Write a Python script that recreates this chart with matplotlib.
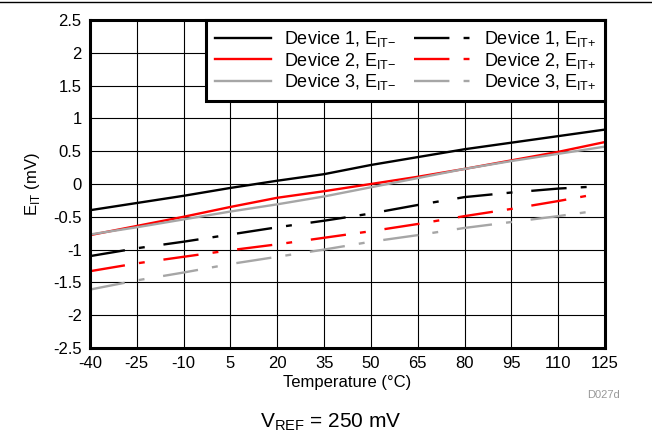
import matplotlib
matplotlib.use("Agg")
import matplotlib.pyplot as plt
from matplotlib.lines import Line2D

plt.rcParams['font.family'] = ['Liberation Sans', 'DejaVu Sans']
plt.rcParams['mathtext.fontset'] = 'custom'
plt.rcParams['mathtext.rm'] = 'Liberation Sans'
plt.rcParams['axes.unicode_minus'] = False

temps = [-40, -25, -10, 5, 20, 35, 50, 65, 80, 95, 110, 125]

# E_IT- (solid)
dev1_minus = [-0.40, -0.29, -0.18, -0.06, 0.05, 0.15, 0.29, 0.41, 0.53, 0.63, 0.73, 0.83]
dev2_minus = [-0.78, -0.64, -0.50, -0.35, -0.21, -0.11, 0.00, 0.11, 0.23, 0.36, 0.49, 0.64]
dev3_minus = [-0.77, -0.66, -0.54, -0.42, -0.31, -0.19, -0.05, 0.09, 0.23, 0.35, 0.46, 0.57]

# E_IT+ (dash-dot)
dev1_plus = [-1.10, -0.98, -0.88, -0.77, -0.66, -0.56, -0.45, -0.32, -0.20, -0.13, -0.07, -0.03]
dev2_plus = [-1.33, -1.21, -1.11, -1.01, -0.92, -0.82, -0.72, -0.61, -0.49, -0.38, -0.26, -0.13]
dev3_plus = [-1.61, -1.47, -1.35, -1.22, -1.11, -1.00, -0.88, -0.78, -0.67, -0.58, -0.49, -0.39]

colors = ['#000000', '#ff0000', '#a6a6a6']
y_ticks = [2.5, 2, 1.5, 1, 0.5, 0, -0.5, -1, -1.5, -2, -2.5]

fig = plt.figure(figsize=(6.52, 4.36), dpi=100)
ax = fig.add_axes([0.138, 0.202, 0.790, 0.752])

dash = (0, (15, 6, 2.5, 8))
lw = 1.7
minus_lab = r'Device {}, E$_{{\mathregular{{IT{{-}}}}}}$'
plus_lab = r'Device {}, E$_{{\mathregular{{IT{{+}}}}}}$'

handles = []
for i, (ys, c) in enumerate(zip([dev1_minus, dev2_minus, dev3_minus], colors)):
    h, = ax.plot(temps, ys, color=c, lw=lw, label=minus_lab.format(i + 1))
    handles.append(h)
for i, (ys, c) in enumerate(zip([dev1_plus, dev2_plus, dev3_plus], colors)):
    h, = ax.plot(temps, ys, color=c, lw=lw, linestyle=dash, label=plus_lab.format(i + 1))
    handles.append(h)

ax.set_xlim(-40, 125)
ax.set_ylim(-2.5, 2.5)
ax.set_xticks(temps)
ax.set_xticklabels([str(t) for t in temps])
ax.set_yticks(y_ticks)
ax.set_yticklabels([f'{v:g}' for v in y_ticks])
ax.tick_params(length=0, pad=6, labelsize=12)
ax.grid(True, color='black', lw=0.8)
ax.set_axisbelow(True)
for s in ax.spines.values():
    s.set_linewidth(2.2)

ax.set_xlabel('Temperature (°C)', fontsize=12, labelpad=3)
ax.set_ylabel(r'E$_{\mathregular{IT}}$ (mV)', fontsize=12, labelpad=8)

leg = ax.legend(handles=handles, ncol=2, loc='upper right', fontsize=13,
                frameon=True, fancybox=False, borderaxespad=0,
                handlelength=3.1, columnspacing=1.0, handletextpad=0.75,
                labelspacing=0.08, borderpad=0.5)
leg.get_frame().set_edgecolor('black')
leg.get_frame().set_linewidth(2.2)
leg.get_frame().set_alpha(1)

fig.text(0.925, 0.094, 'D027d', fontsize=8, color='#999999', ha='center', va='center')
fig.text(0.508, 0.032, r'V$_{\mathregular{REF}}$ = 250 mV', fontsize=15, ha='center', va='center')
fig.add_artist(Line2D([0, 1], [0.995, 0.995], color='black', lw=1, transform=fig.transFigure))

fig.savefig('out.png', dpi=100)
